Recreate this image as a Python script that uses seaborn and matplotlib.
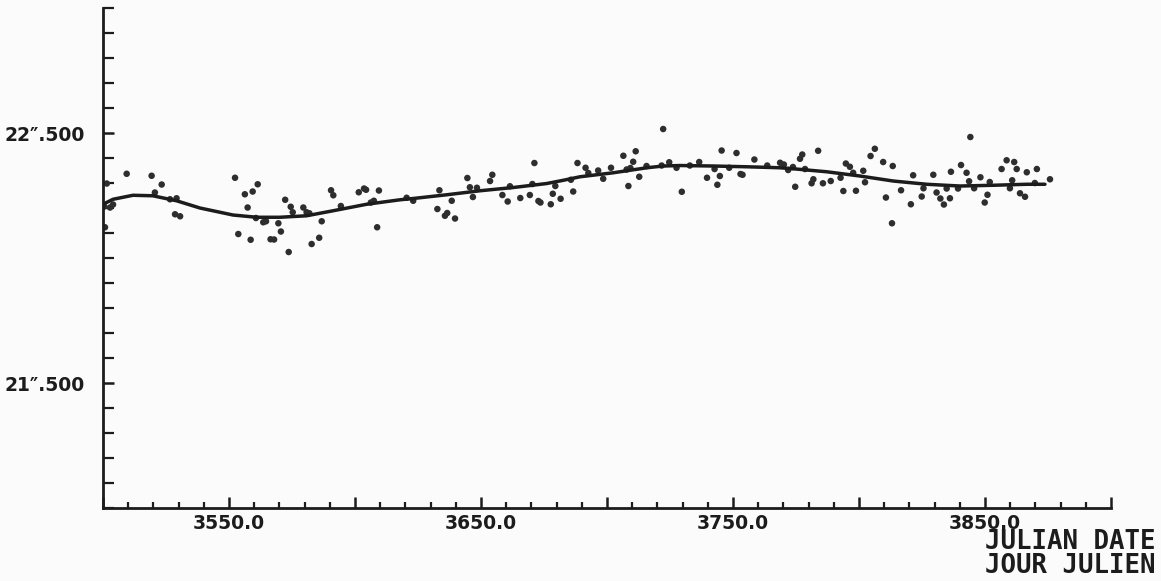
import numpy as np
import pandas as pd
import matplotlib
matplotlib.use("Agg")
import matplotlib.pyplot as plt
import seaborn as sns
from matplotlib.ticker import FixedLocator, MultipleLocator

jd = [3500.5, 3501.5, 3500.8, 3502.8, 3504.0, 3509.4, 3519.3, 3520.6, 3523.3, 3526.6,
      3529.2, 3528.6, 3530.6, 3552.4, 3553.7, 3556.3, 3557.4, 3558.6, 3559.4, 3561.4,
      3560.7, 3563.6, 3564.7, 3566.5, 3567.9, 3569.6, 3570.6, 3572.3, 3573.7, 3574.5,
      3575.3, 3579.5, 3580.8, 3581.9, 3582.8, 3585.8, 3586.8, 3590.5, 3591.4, 3594.4,
      3601.5, 3603.6, 3604.4, 3606.3, 3607.5, 3608.8, 3609.5, 3620.5, 3623.1, 3632.7,
      3633.5, 3635.7, 3636.6, 3639.7, 3638.4, 3644.6, 3645.6, 3648.4, 3646.8, 3653.6,
      3654.5, 3658.5, 3660.6, 3661.5, 3665.6, 3669.4, 3670.4, 3671.2, 3672.8, 3673.6,
      3677.7, 3678.5, 3681.6, 3679.5, 3685.7, 3686.6, 3688.3, 3691.5, 3692.6, 3696.5,
      3698.5, 3701.6, 3706.5, 3708.5, 3711.4, 3710.4, 3707.8, 3709.3, 3712.8, 3715.7,
      3721.7, 3722.3, 3724.7, 3729.7, 3727.6, 3732.9, 3736.6, 3739.7, 3742.7, 3743.8,
      3744.8, 3745.5, 3748.5, 3751.4, 3753.0, 3753.8, 3758.5, 3763.6, 3768.7, 3770.2,
      3771.9, 3773.8, 3774.7, 3776.6, 3777.5, 3778.6, 3781.2, 3781.9, 3783.8, 3785.7,
      3788.8, 3792.7, 3793.8, 3794.8, 3796.4, 3797.7, 3798.8, 3801.7, 3802.4, 3804.6,
      3806.3, 3809.6, 3810.7, 3813.4, 3813.1, 3816.7, 3820.6, 3821.5, 3824.9, 3825.6,
      3829.5, 3830.8, 3832.3, 3833.7, 3834.8, 3836.1, 3836.5, 3839.3, 3840.5, 3842.7,
      3843.7, 3844.2, 3845.7, 3848.2, 3849.9, 3851.0, 3851.9, 3856.6, 3858.6, 3859.9,
      3860.8, 3861.6, 3862.6, 3863.9, 3865.9, 3866.6, 3869.8, 3870.6, 3875.8]
mag = [22.206, 22.298, 22.123, 22.202, 22.214, 22.337, 22.329, 22.262, 22.294, 22.235,
       22.239, 22.175, 22.167, 22.321, 22.096, 22.255, 22.202, 22.073, 22.266, 22.295,
       22.160, 22.143, 22.147, 22.075, 22.074, 22.139, 22.106, 22.233, 22.024, 22.205,
       22.183, 22.202, 22.183, 22.179, 22.056, 22.081, 22.147, 22.271, 22.251, 22.208,
       22.263, 22.278, 22.273, 22.222, 22.229, 22.123, 22.270, 22.241, 22.229, 22.196,
       22.271, 22.169, 22.180, 22.158, 22.229, 22.320, 22.283, 22.281, 22.244, 22.308,
       22.333, 22.252, 22.226, 22.287, 22.240, 22.252, 22.296, 22.380, 22.228, 22.222,
       22.215, 22.257, 22.237, 22.288, 22.313, 22.266, 22.380, 22.361, 22.340, 22.350,
       22.317, 22.361, 22.409, 22.288, 22.427, 22.385, 22.354, 22.360, 22.325, 22.368,
       22.370, 22.516, 22.383, 22.265, 22.361, 22.370, 22.384, 22.321, 22.356, 22.293,
       22.328, 22.430, 22.361, 22.420, 22.336, 22.333, 22.394, 22.370, 22.381, 22.374,
       22.352, 22.364, 22.285, 22.397, 22.414, 22.356, 22.299, 22.315, 22.429, 22.299,
       22.308, 22.321, 22.268, 22.378, 22.365, 22.341, 22.269, 22.349, 22.303, 22.408,
       22.437, 22.384, 22.242, 22.368, 22.139, 22.271, 22.215, 22.331, 22.246, 22.279,
       22.333, 22.262, 22.238, 22.214, 22.278, 22.239, 22.345, 22.278, 22.372, 22.341,
       22.307, 22.484, 22.279, 22.323, 22.222, 22.253, 22.304, 22.356, 22.391, 22.279,
       22.311, 22.384, 22.356, 22.259, 22.245, 22.343, 22.300, 22.356, 22.315]

# --- Smoothed fit ---
curve_jd = [3500.0, 3504.0, 3511.9, 3519.8, 3529.2, 3538.5, 3551.6, 3561.0, 3570.2, 3580.8,
            3591.3, 3604.6, 3617.9, 3623.0, 3636.4, 3649.6, 3662.8, 3676.1, 3682.7, 3689.3,
            3702.5, 3715.8, 3722.3, 3729.0, 3742.2, 3755.4, 3768.7, 3773.9, 3787.2, 3800.4,
            3813.6, 3826.9, 3840.1, 3853.3, 3866.5, 3873.8]
curve_mag = [22.215, 22.235, 22.251, 22.249, 22.229, 22.200, 22.172, 22.163, 22.163, 22.169,
             22.189, 22.215, 22.233, 22.238, 22.253, 22.269, 22.282, 22.298, 22.311, 22.325,
             22.341, 22.361, 22.368, 22.370, 22.368, 22.365, 22.361, 22.357, 22.345, 22.328,
             22.308, 22.295, 22.288, 22.291, 22.295, 22.295]

x_major = [3500, 3550, 3600, 3650, 3700, 3750, 3800, 3850, 3900]
x_labels = ["", "3550.0", "", "3650.0", "", "3750.0", "", "3850.0", ""]
y_major = [21.5, 22.5]
y_labels = ["21\u2033.500", "22\u2033.500"]

pts = pd.DataFrame({"jd": jd, "mag": mag})
fit = pd.DataFrame({"jd": curve_jd, "mag": curve_mag})

sns.set_style("ticks")
plt.rcParams["font.family"] = ["DejaVu Sans"]

ink = "#1c1c1c"
fig = plt.figure(figsize=(11.61, 5.81), dpi=100, facecolor="#fbfbfb")
ax = fig.add_axes([0.0887, 0.1256, 0.8682, 0.8606])
ax.set_facecolor("#fbfbfb")

sns.scatterplot(data=pts, x="jd", y="mag", ax=ax, s=22, color="#2e2e2e",
                edgecolor="none", linewidth=0, zorder=2)
sns.lineplot(data=fit, x="jd", y="mag", ax=ax, color=ink, linewidth=2.5,
             estimator=None, zorder=3)

ax.set_xlim(3500, 3900)
ax.set_ylim(21.0, 23.0)

for side in ["top", "right"]:
    ax.spines[side].set_visible(False)
for side in ["left", "bottom"]:
    ax.spines[side].set_linewidth(2.0)
    ax.spines[side].set_color(ink)

ax.xaxis.set_major_locator(FixedLocator(x_major))
ax.set_xticklabels(x_labels)
ax.xaxis.set_minor_locator(MultipleLocator(10))
ax.yaxis.set_major_locator(FixedLocator(y_major))
ax.set_yticklabels(y_labels)
ax.yaxis.set_minor_locator(MultipleLocator(0.1))

ax.tick_params(axis="x", which="major", direction="in", length=8, width=1.8,
               color=ink, pad=4, labelsize=13.5, labelcolor=ink)
ax.tick_params(axis="x", which="minor", direction="in", length=4, width=1.6, color=ink)
ax.tick_params(axis="y", which="major", direction="in", length=8, width=1.8,
               color=ink, pad=13, labelsize=13.5, labelcolor=ink)
ax.tick_params(axis="y", which="minor", direction="in", length=8, width=1.6, color=ink)
for lab in ax.get_xticklabels() + ax.get_yticklabels():
    lab.set_fontweight("bold")

ax.set_xlabel("")
ax.set_ylabel("")

fig.text(0.995, 0.0895, "JULIAN DATE\nJOUR JULIEN", ha="right", va="top",
         fontsize=18.5, fontweight="bold", family="DejaVu Sans Mono",
         color=ink, linespacing=0.92)

fig.savefig("out.png", dpi=100, facecolor=fig.get_facecolor())
